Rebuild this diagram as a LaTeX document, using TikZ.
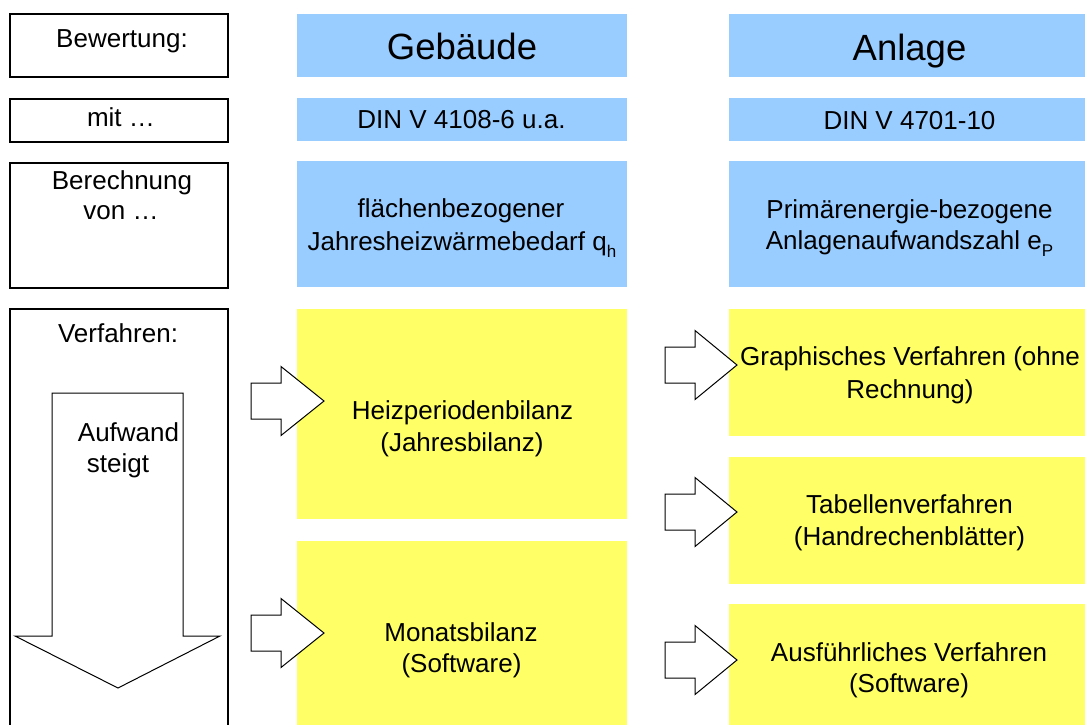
\documentclass[tikz,border=0pt]{standalone}
\usepackage{fontspec}
\setmainfont{Liberation Sans}
\definecolor{skyblue}{RGB}{153,204,255}
\definecolor{paleyellow}{RGB}{255,255,102}
\tikzset{
  frame/.style={draw=black, line width=1.1pt, fill=white, inner sep=0pt, outer sep=0pt},
  bluebox/.style={fill=skyblue, draw=none, inner sep=0pt, outer sep=0pt},
  yellowbox/.style={fill=paleyellow, draw=none, inner sep=0pt, outer sep=0pt},
  txt/.style={font=\fontsize{26}{32}\selectfont, inner sep=0pt, anchor=base},
  headline/.style={font=\fontsize{36.5}{44}\selectfont, inner sep=0pt, anchor=base},
  blockarrow/.style={draw=black, line width=1pt, fill=white, line join=miter},
  pics/rblock/.style={code={
    \path[blockarrow] (0,-18) -- (30,-18) -- (30,-34.5) -- (#1,0) -- (30,34.5) -- (30,18) -- (0,18) -- cycle;}}
}
\newcommand{\lowsub}[1]{\raisebox{-7pt}{\fontsize{17}{17}\selectfont #1}}
\begin{document}
\begin{tikzpicture}[x=1pt, y=-1pt]
\clip (0,0) rectangle (1085,724);
\fill[white] (0,0) rectangle (1085,724);

% left column: criteria frames
\node[frame, minimum width=218pt, minimum height=63pt]  (bew) at (119,45.5) {};
\node[frame, minimum width=218pt, minimum height=43pt]  (mit) at (119,120.5) {};
\node[frame, minimum width=218pt, minimum height=125pt] (ber) at (119,225.5) {};
\node[frame, minimum width=218pt, minimum height=431pt] (ver) at (119,524.5) {};

% building column
\node[bluebox, minimum width=330pt, minimum height=63pt]  (geb)  at (462,45.5) {};
\node[bluebox, minimum width=330pt, minimum height=43pt]  (din1) at (462,119.5) {};
\node[bluebox, minimum width=330pt, minimum height=126pt] (qh)   at (462,224) {};
\node[yellowbox, minimum width=330pt, minimum height=210pt] (heiz) at (462,414) {};
\node[yellowbox, minimum width=330pt, minimum height=199pt] (mon)  at (462,640.5) {};

% plant column
\node[bluebox, minimum width=361pt, minimum height=63pt]  (anl)  at (909.5,45.5) {};
\node[bluebox, minimum width=361pt, minimum height=43pt]  (din2) at (909.5,119.5) {};
\node[bluebox, minimum width=361pt, minimum height=126pt] (ep)   at (909.5,224) {};
\node[yellowbox, minimum width=361pt, minimum height=127pt] (gra) at (909.5,372.5) {};
\node[yellowbox, minimum width=361pt, minimum height=127pt] (tab) at (909.5,520.5) {};
\node[yellowbox, minimum width=361pt, minimum height=136pt] (aus) at (909.5,672) {};

% effort arrow
\path[blockarrow] (52,393) -- (183,393) -- (183,636) -- (220,636) -- (118,688)
  -- (15,636) -- (52,636) -- cycle;

% block arrows pointing at the methods
\pic at (251,401) {rblock=73};
\pic at (251,633) {rblock=73};
\pic at (665,365) {rblock=72};
\pic at (665,512) {rblock=72};
\pic at (665,660) {rblock=72};

% labels, left column
\node[txt] (tbew)  at (122,47)  {Bewertung:};
\node[txt] (tmit)  at (121,126) {mit …};
\node[txt] (tber1) at (122,189) {Berechnung};
\node[txt] (tber2) at (121,219) {von …};
\node[txt] (tver)  at (118,342) {Verfahren:};
\node[txt] (tauf1) at (128.5,441) {Aufwand};
\node[txt] (tauf2) at (118,472) {steigt};

% labels, building column
\node[headline] (tgeb) at (462,59) {Gebäude};
\node[txt] (tdin1) at (461.5,128) {DIN V 4108-6 u.a.};
\node[txt] (tqh1)  at (461,217) {flächenbezogener};
\node[txt] (tqh2)  at (462,250) {Jahresheizwärmebedarf q\lowsub{h}};
\node[txt] (theiz1) at (462.5,419) {Heizperiodenbilanz};
\node[txt] (theiz2) at (462,451) {(Jahresbilanz)};
\node[txt] (tmon1) at (461,641) {Monatsbilanz};
\node[txt] (tmon2) at (461.5,672) {(Software)};

% labels, plant column
\node[headline] (tanl) at (909.5,60) {Anlage};
\node[txt] (tdin2) at (909.5,129) {DIN V 4701-10};
\node[txt] (tep1)  at (909.5,218) {Primärenergie-bezogene};
\node[txt] (tep2)  at (909.5,249) {Anlagenaufwandszahl e\lowsub{P}};
\node[txt] (tgra1) at (910,365) {Graphisches Verfahren (ohne};
\node[txt] (tgra2) at (910,398) {Rechnung)};
\node[txt] (ttab1) at (909.5,513) {Tabellenverfahren};
\node[txt] (ttab2) at (909.5,545) {(Handrechenblätter)};
\node[txt] (taus1) at (909,661) {Ausführliches Verfahren};
\node[txt] (taus2) at (909,692) {(Software)};
\end{tikzpicture}
\end{document}
